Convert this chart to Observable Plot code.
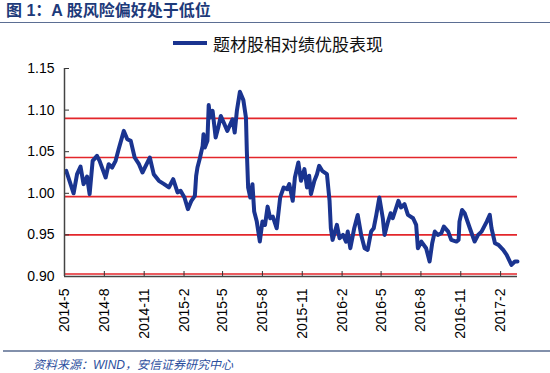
<!DOCTYPE html>
<html><head><meta charset="utf-8">
<script src="https://cdn.jsdelivr.net/npm/d3@7"></script>
<script src="https://cdn.jsdelivr.net/npm/@observablehq/plot@0.6"></script>
<style>
body{margin:0;background:#fff;}
#wrap{position:relative;width:550px;height:373px;overflow:hidden;font-family:"Liberation Sans",Arial,sans-serif;background:#fff;}
#chart{position:absolute;left:0;top:0;}
#title{position:absolute;left:6px;top:1px;font:bold 16px "Liberation Sans","Noto Sans CJK SC",sans-serif;color:#1d3a7a;line-height:20px;white-space:nowrap;}
#tline{position:absolute;left:0;top:22px;width:550px;height:0;border-top:1.5px solid #5b6e93;}
#legend{position:absolute;left:173px;top:33px;display:flex;align-items:center;height:20px;white-space:nowrap;}
#legend .sw{width:34px;height:4px;background:#1a3490;margin-right:6px;}
#legend span{font:17px "Noto Sans CJK SC",sans-serif;color:#111;}
#fline{position:absolute;left:3px;top:350px;width:547px;height:0;border-top:2px solid #8290ab;}
#source{position:absolute;left:33px;top:355px;font:italic 12px "Liberation Sans","Noto Sans CJK SC",sans-serif;color:#2c4f9e;white-space:nowrap;}
</style></head>
<body>
<div id="wrap">
  <div id="chart"></div>
  <div id="title">图 1：A 股风险偏好处于低位</div>
  <div id="tline"></div>
  <div id="legend"><div class="sw"></div><span>题材股相对绩优股表现</span></div>
  <div id="fline"></div>
  <div id="source">资料来源：WIND，安信证券研究中心</div>
</div>
<script>
const dates = [
"2014-05-05","2014-05-22","2014-05-30","2014-06-07","2014-06-14","2014-06-22","2014-06-28","2014-07-05","2014-07-15","2014-07-21",
"2014-08-04","2014-08-11","2014-08-19","2014-08-27","2014-09-03","2014-09-15","2014-09-23","2014-10-01","2014-10-10","2014-10-20",
"2014-10-28","2014-11-14","2014-11-23","2014-12-05","2014-12-17","2014-12-28","2015-01-07","2015-01-17","2015-01-24","2015-02-02",
"2015-02-10","2015-02-18","2015-02-26","2015-03-01","2015-03-04","2015-03-10","2015-03-16","2015-03-18","2015-03-21","2015-03-27",
"2015-03-30","2015-04-02","2015-04-08","2015-04-15","2015-04-21","2015-04-27","2015-05-12","2015-05-24","2015-05-29","2015-06-03",
"2015-06-10","2015-06-18","2015-06-24","2015-06-26","2015-06-29","2015-07-04","2015-07-09","2015-07-13","2015-07-19","2015-07-26",
"2015-08-01","2015-08-07","2015-08-13","2015-08-19","2015-08-25","2015-09-03","2015-09-11","2015-09-19","2015-09-27","2015-10-02",
"2015-10-10","2015-10-15","2015-10-23","2015-10-29","2015-11-06","2015-11-12","2015-11-17","2015-11-21","2015-11-29","2015-12-05",
"2015-12-10","2015-12-17","2015-12-28","2016-01-03","2016-01-06","2016-01-10","2016-01-20","2016-01-26","2016-02-03","2016-02-10",
"2016-02-14","2016-02-20","2016-02-29","2016-03-08","2016-03-16","2016-03-24","2016-03-31","2016-04-08","2016-04-14","2016-04-20",
"2016-04-27","2016-05-05","2016-05-09","2016-05-17","2016-05-23","2016-05-28","2016-06-10","2016-06-16","2016-06-24","2016-07-02",
"2016-07-14","2016-07-21","2016-07-25","2016-08-02","2016-08-13","2016-08-21","2016-08-27","2016-09-02","2016-09-09","2016-09-17",
"2016-09-23","2016-10-03","2016-10-10","2016-10-22","2016-10-27","2016-10-29","2016-11-04","2016-11-10","2016-11-22","2016-12-03",
"2016-12-11","2016-12-19","2016-12-31","2017-01-07","2017-01-11","2017-01-19","2017-01-27","2017-02-07","2017-02-15","2017-02-26",
"2017-03-06","2017-03-12"];
const values = [
1.027,1.000,1.023,1.032,1.011,1.020,0.999,1.039,1.045,1.039,
1.019,1.035,1.031,1.039,1.053,1.075,1.065,1.063,1.043,1.035,
1.025,1.043,1.023,1.015,1.011,1.007,1.017,1.001,1.003,0.995,
0.981,0.991,0.997,1.021,1.031,1.043,1.057,1.071,1.055,1.063,
1.106,1.091,1.099,1.067,1.079,1.093,1.075,1.089,1.073,1.099,
1.122,1.112,1.091,1.051,1.007,0.995,1.011,0.978,0.966,0.942,
0.966,0.962,0.984,0.970,0.972,0.958,0.995,1.007,1.005,1.011,
0.991,1.019,1.037,1.015,1.029,1.007,1.021,0.999,1.015,1.023,
1.033,1.027,1.023,0.991,0.958,0.944,0.962,0.946,0.950,0.942,
0.954,0.934,0.958,0.974,0.950,0.934,0.932,0.954,0.958,0.974,
0.995,0.970,0.950,0.966,0.976,0.970,0.991,0.983,0.987,0.974,
0.970,0.962,0.934,0.942,0.934,0.918,0.940,0.954,0.950,0.952,
0.960,0.954,0.944,0.942,0.944,0.966,0.980,0.976,0.958,0.942,
0.950,0.954,0.966,0.974,0.958,0.940,0.938,0.932,0.926,0.914,
0.918,0.918];
const levels = [1.090, 1.043, 0.996, 0.950, 0.903];
const yTicks = [0.90, 0.95, 1.00, 1.05, 1.10, 1.15];
const xTickLabels = ["2014-5","2014-8","2014-11","2015-2","2015-5","2015-8","2015-11","2016-2","2016-5","2016-8","2016-11","2017-2"];
const xStart = "2014-05-01", xEnd = "2017-03-12";

const data = dates.map((d, i) => ({date: new Date(d), value: values[i]}));
const tickDates = xTickLabels.map(s => { const [y, m] = s.split("-").map(Number); return new Date(Date.UTC(y, m - 1, 1)); });
const labelOf = new Map(tickDates.map((d, i) => [+d, xTickLabels[i]]));

const chart = Plot.plot({
  width: 550, height: 346,
  marginLeft: 64, marginRight: 33, marginTop: 68, marginBottom: 70,
  style: {fontFamily: '"Liberation Sans", Arial, sans-serif', fontSize: "14px", color: "#000", background: "transparent"},
  x: {type: "utc", domain: [new Date(xStart), new Date(xEnd)]},
  y: {domain: [0.90, 1.15]},
  marks: [
    Plot.ruleY(levels, {stroke: "#e3262b", strokeWidth: 1.6}),
    Plot.line(data, {x: "date", y: "value", stroke: "#1a3490", strokeWidth: 4, strokeLinejoin: "round"}),
    Plot.axisY({ticks: yTicks, tickFormat: d3.format(".2f"), tickSize: -5, tickPadding: 15, label: null, stroke: "#333", fontSize: 14}),
    Plot.axisX({ticks: tickDates, tickFormat: d => labelOf.get(+d), tickRotate: -90, tickSize: -5, tickPadding: 17, label: null, stroke: "#333", fontSize: 14}),
    Plot.ruleX([new Date(xStart)], {stroke: "#444", strokeWidth: 1.5}),
    Plot.ruleY([0.90], {stroke: "#444", strokeWidth: 1.5})
  ]
});
document.getElementById("chart").appendChild(chart);
</script>
</body></html>
